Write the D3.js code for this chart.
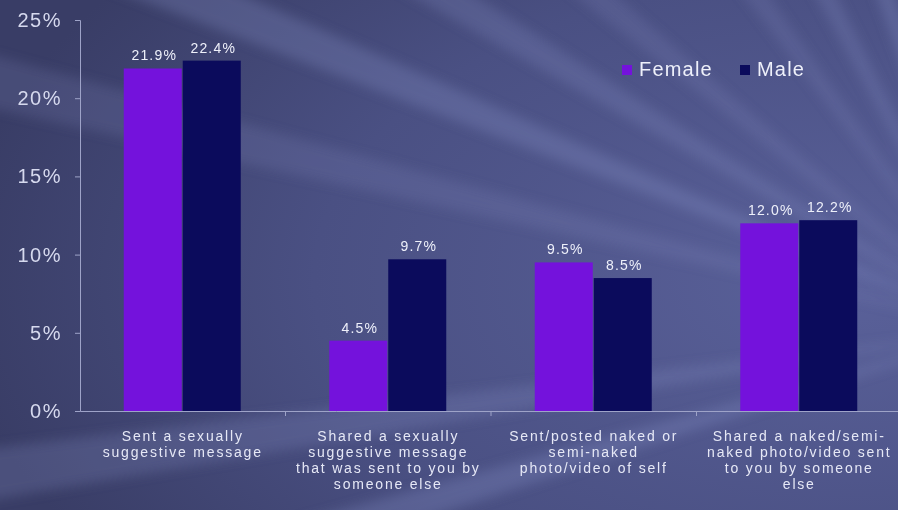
<!DOCTYPE html>
<html>
<head>
<meta charset="utf-8">
<script src="https://cdn.jsdelivr.net/npm/d3@7"></script>
<style>
  body { margin: 0; background: #474c7c; }
  svg { display: block; }
</style>
</head>
<body>
<div id="chart"></div>
<script>
// data
const categories = [
  ["Sent a sexually", "suggestive message"],
  ["Shared a sexually", "suggestive message", "that was sent to you by", "someone else"],
  ["Sent/posted naked or", "semi-naked", "photo/video of self"],
  ["Shared a naked/semi-", "naked photo/video sent", "to you by someone", "else"]
];
const female = [21.9, 4.5, 9.5, 12.0];
const male = [22.4, 9.7, 8.5, 12.2];
const seriesNames = ["Female", "Male"];
const yTicks = [0, 5, 10, 15, 20, 25];

const W = 898, H = 510;
const margin = {top: 20, right: -4, bottom: 99, left: 80},
    width = W - margin.left - margin.right,
    height = H - margin.top - margin.bottom;

const color = d3.scaleOrdinal().domain(seriesNames).range(["#7412dc", "#0b0b5c"]);
const font = "Liberation Sans, Arial";

const root = d3.select("#chart").append("svg")
    .attr("width", W).attr("height", H);

// background with soft light rays
const defs = root.append("defs");
const bg = defs.append("radialGradient").attr("id", "bg")
    .attr("cx", "0.95").attr("cy", "0.55").attr("r", "1.0");
bg.append("stop").attr("offset", "0").attr("stop-color", "#5a619a");
bg.append("stop").attr("offset", "0.6").attr("stop-color", "#4a5083");
bg.append("stop").attr("offset", "1").attr("stop-color", "#393d66");
root.append("rect").attr("width", W).attr("height", H).attr("fill", "url(#bg)");

const blur = defs.append("filter").attr("id", "blur");
blur.append("feGaussianBlur").attr("stdDeviation", 6);

// rays fanning out from a point off the right edge
const cx = 1000, cy = 330;
const rayAngles = [-2.45, -2.6, -2.75, -2.9, 3.0, 2.85, -2.2, -2.05, -1.9];
root.append("g").attr("filter", "url(#blur)")
  .selectAll("path").data(rayAngles).join("path")
    .attr("d", a => {
      const r = 1400, w = 0.025;
      return `M${cx},${cy}L${cx + r * Math.cos(a - w)},${cy + r * Math.sin(a - w)}L${cx + r * Math.cos(a + w)},${cy + r * Math.sin(a + w)}Z`;
    })
    .attr("fill", "#8a92c8")
    .attr("opacity", (d, i) => 0.18 + (i % 3) * 0.05);

const svg = root.append("g")
    .attr("transform", `translate(${margin.left}, ${margin.top})`);

// scales
const x0 = d3.scaleBand().domain(d3.range(categories.length)).range([0, width]).padding(0);
const x1 = d3.scaleBand().domain(seriesNames).range([0, 118]).padding(0);
const y = d3.scaleLinear().domain([0, 25]).range([height, 0]);

// y axis
const yAxis = svg.append("g")
    .call(d3.axisLeft(y).tickValues(yTicks).tickFormat(d => d + "%").tickSize(5).tickPadding(13));
yAxis.select(".domain").attr("stroke", "#9ea3c8");
yAxis.selectAll(".tick line").attr("stroke", "#9ea3c8");
yAxis.selectAll("text")
    .attr("fill", "#d6d9ee")
    .attr("font-family", font)
    .attr("font-size", 20)
    .attr("letter-spacing", 1.5);

// x axis
const xAxis = svg.append("g")
    .attr("transform", `translate(0, ${height})`)
    .call(d3.axisBottom(x0).tickSize(0).tickFormat(""));
xAxis.select(".domain").attr("stroke", "#9ea3c8");
svg.append("g").selectAll("line")
  .data(d3.range(1, categories.length))
  .join("line")
    .attr("x1", d => x0(d)).attr("x2", d => x0(d))
    .attr("y1", height).attr("y2", height + 5)
    .attr("stroke", "#9ea3c8");

// bars
const groups = svg.append("g").selectAll("g")
  .data(categories.map((c, i) => i))
  .join("g")
    .attr("transform", i => `translate(${x0(i) + (x0.bandwidth() - 118) / 2}, 0)`);

const rows = i => [
  {key: "Female", value: female[i]},
  {key: "Male", value: male[i]}
];

groups.selectAll("rect")
  .data(rows)
  .join("rect")
    .attr("x", d => x1(d.key))
    .attr("y", d => y(d.value))
    .attr("width", x1.bandwidth() - 1)
    .attr("height", d => height - y(d.value))
    .attr("fill", d => color(d.key));

groups.selectAll("text")
  .data(rows)
  .join("text")
    .attr("x", d => x1(d.key) + x1.bandwidth() / 2 + 1)
    .attr("y", d => y(d.value) - 8)
    .attr("text-anchor", "middle")
    .attr("fill", "#eef0fa")
    .attr("font-family", font)
    .attr("font-size", 14)
    .attr("letter-spacing", 1.2)
    .text(d => d.value.toFixed(1) + "%");

// category labels
svg.append("g").selectAll("text")
  .data(categories)
  .join("text")
    .attr("x", (d, i) => x0(i) + x0.bandwidth() / 2)
    .attr("y", height + 30)
    .attr("text-anchor", "middle")
    .attr("fill", "#e6e8f6")
    .attr("font-family", font)
    .attr("font-size", 14)
    .attr("letter-spacing", 1.8)
  .selectAll("tspan")
  .data(d => d)
  .join("tspan")
    .attr("x", function() { return d3.select(this.parentNode).attr("x"); })
    .attr("dy", (d, i) => i === 0 ? 0 : 16)
    .text(d => d);

// legend
const legend = svg.append("g").attr("transform", `translate(${542}, ${50})`);
const legX = [0, 118];
legend.selectAll("rect")
  .data(seriesNames)
  .join("rect")
    .attr("x", (d, i) => legX[i])
    .attr("y", -5)
    .attr("width", 10).attr("height", 10)
    .attr("fill", d => color(d));
legend.selectAll("text")
  .data(seriesNames)
  .join("text")
    .attr("x", (d, i) => legX[i] + 17)
    .attr("y", 1)
    .attr("dominant-baseline", "middle")
    .attr("fill", "#eef0fa")
    .attr("font-family", font)
    .attr("font-size", 20)
    .attr("letter-spacing", 1.2)
    .text(d => d);
</script>
</body>
</html>
